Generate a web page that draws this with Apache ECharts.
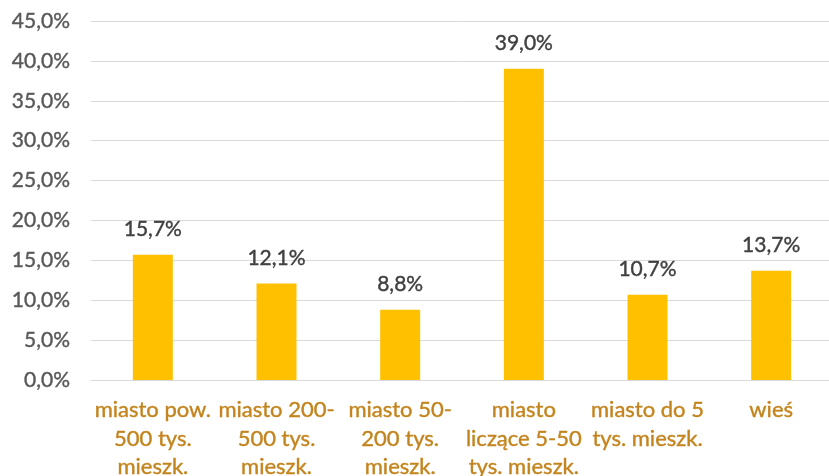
<!DOCTYPE html>
<html>
<head>
<meta charset="utf-8">
<script src="https://cdn.jsdelivr.net/npm/echarts@6/dist/echarts.min.js"></script>
<style>
html,body{margin:0;padding:0;background:#fff;}
#chart{width:829px;height:476px;}
</style>
</head>
<body>
<div id="chart"></div>
<script>
// Place of residence categories and their shares (%)
const categories = [
  'miasto pow.\n500 tys.\nmieszk.',
  'miasto 200-\n500 tys.\nmieszk.',
  'miasto 50-\n200 tys.\nmieszk.',
  'miasto\nliczące 5-50\ntys. mieszk.',
  'miasto do 5\ntys. mieszk.',
  'wieś'
];
const shares = [15.7, 12.1, 8.8, 39.0, 10.7, 13.7];
const yMin = 0, yMax = 45, yStep = 5;

const fmt = v => v.toFixed(1).replace('.', ',') + '%';
const FONT = 'Lato, "Open Sans", sans-serif';

const chart = echarts.init(document.getElementById('chart'), null, {renderer: 'canvas'});
chart.setOption({
  animation: false,
  backgroundColor: '#ffffff',
  grid: {left: 91, right: -4, top: 21, bottom: 96, containLabel: false, outerBoundsMode: 'none'},
  xAxis: {
    type: 'category',
    data: categories,
    axisTick: {show: false},
    axisLine: {show: true, lineStyle: {color: '#d9d9d9', width: 1}},
    axisLabel: {
      interval: 0,
      color: '#c4841d',
      textBorderColor: '#c4841d',
      textBorderWidth: 0.4,
      fontFamily: FONT,
      fontSize: 22,
      lineHeight: 28.5,
      margin: 16
    }
  },
  yAxis: {
    type: 'value',
    min: yMin,
    max: yMax,
    interval: yStep,
    axisLine: {show: false},
    axisTick: {show: false},
    splitLine: {lineStyle: {color: '#d9d9d9', width: 1}},
    axisLabel: {
      color: '#595959',
      textBorderColor: '#595959',
      textBorderWidth: 0.4,
      fontFamily: FONT,
      fontSize: 21,
      margin: 21,
      formatter: v => fmt(v)
    }
  },
  series: [{
    type: 'bar',
    data: shares,
    barWidth: 40,
    itemStyle: {color: '#ffc000'},
    label: {
      show: true,
      position: 'top',
      distance: 15,
      color: '#404040',
      textBorderColor: '#404040',
      textBorderWidth: 0.4,
      fontFamily: FONT,
      fontSize: 21,
      formatter: p => fmt(p.value)
    }
  }]
});
</script>
</body>
</html>
